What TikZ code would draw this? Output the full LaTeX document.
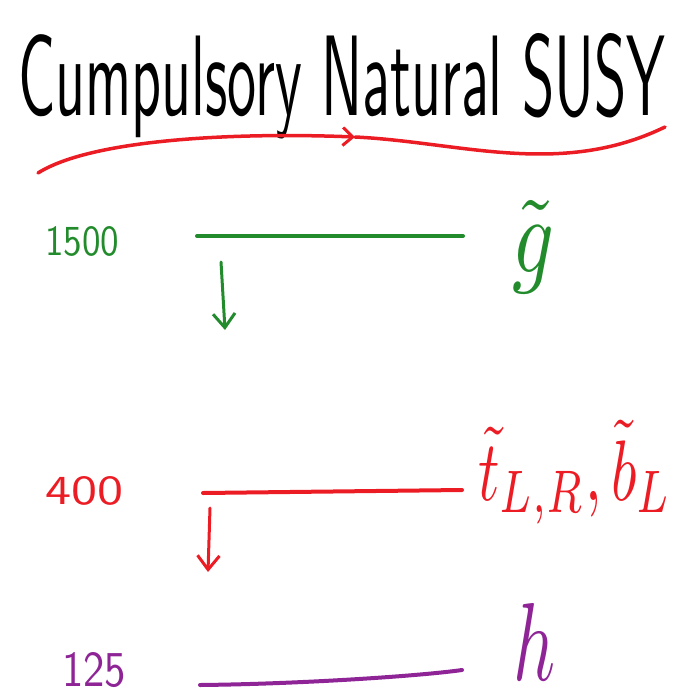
\documentclass[tikz,border=0pt]{standalone}
\usetikzlibrary{arrows.meta}
\definecolor{hgreen}{RGB}{34,139,44}
\definecolor{hred}{RGB}{236,28,36}
\definecolor{hpurple}{RGB}{142,36,150}
\begin{document}
\begin{tikzpicture}[x=1pt,y=-1pt,
  level/.style={line width=4pt,line cap=round},
  decay/.style={line width=3pt,line cap=round,-{Straight Barb[length=14pt,width=22pt,line width=3pt]}},
  mass/.style={inner sep=0pt,anchor=base west},
  part/.style={inner sep=0pt,anchor=base west}]
\useasboundingbox (0,0) rectangle (675,693);
% title
\node[inner sep=0pt,anchor=base west] (title) at (18,115) {\resizebox{647pt}{82pt}{\sffamily Cumpulsory Natural SUSY}};
% red wavy arrow
\coordinate (w1) at (38,173);
\coordinate (wm) at (355,137);
\coordinate (w2) at (665,127);
\draw[hred,line width=3.5pt,line cap=round,-{Straight Barb[length=10pt,width=18pt,line width=3pt]}]
  (w1) .. controls (90,140) and (230,132) .. (wm);
\draw[hred,line width=3.5pt,line cap=round]
  (wm) .. controls (460,142) and (560,178) .. (w2);
% gluino level
\node[mass,hgreen] (m1500) at (45,255) {\resizebox{74pt}{29pt}{\sffamily 1500}};
\coordinate (g1) at (197,236);
\coordinate (g2) at (463,236);
\draw[level,hgreen] (g1) -- (g2);
\coordinate (ga) at (221,262);
\coordinate (gb) at (225,330);
\draw[decay,hgreen] (ga) -- (gb);
\node[part,hgreen] (gl) at (512,272) {\resizebox{42pt}{72pt}{$\tilde g$}};
% stop level
\node[mass,hred] (m400) at (45,504) {\resizebox{78pt}{28pt}{\sffamily 400}};
\coordinate (t1) at (203,493);
\coordinate (t2) at (462,490);
\draw[level,hred] (t1) -- (t2);
\coordinate (ta) at (210,508);
\coordinate (tb) at (208,572);
\draw[decay,hred] (ta) -- (tb);
\node[part,hred] (st) at (478,500) {\resizebox{194pt}{80pt}{$\tilde t_{L,R},\tilde b_L$}};
% higgs level
\node[mass,hpurple] (m125) at (62,686) {\resizebox{64pt}{34pt}{\sffamily 125}};
\coordinate (h1) at (200,685);
\coordinate (h2) at (462,670);
\draw[level,hpurple] (h1) .. controls (300,684) and (420,676) .. (h2);
\node[part,hpurple] (hh) at (513,680) {\resizebox{42pt}{77pt}{$h$}};
\end{tikzpicture}
\end{document}
